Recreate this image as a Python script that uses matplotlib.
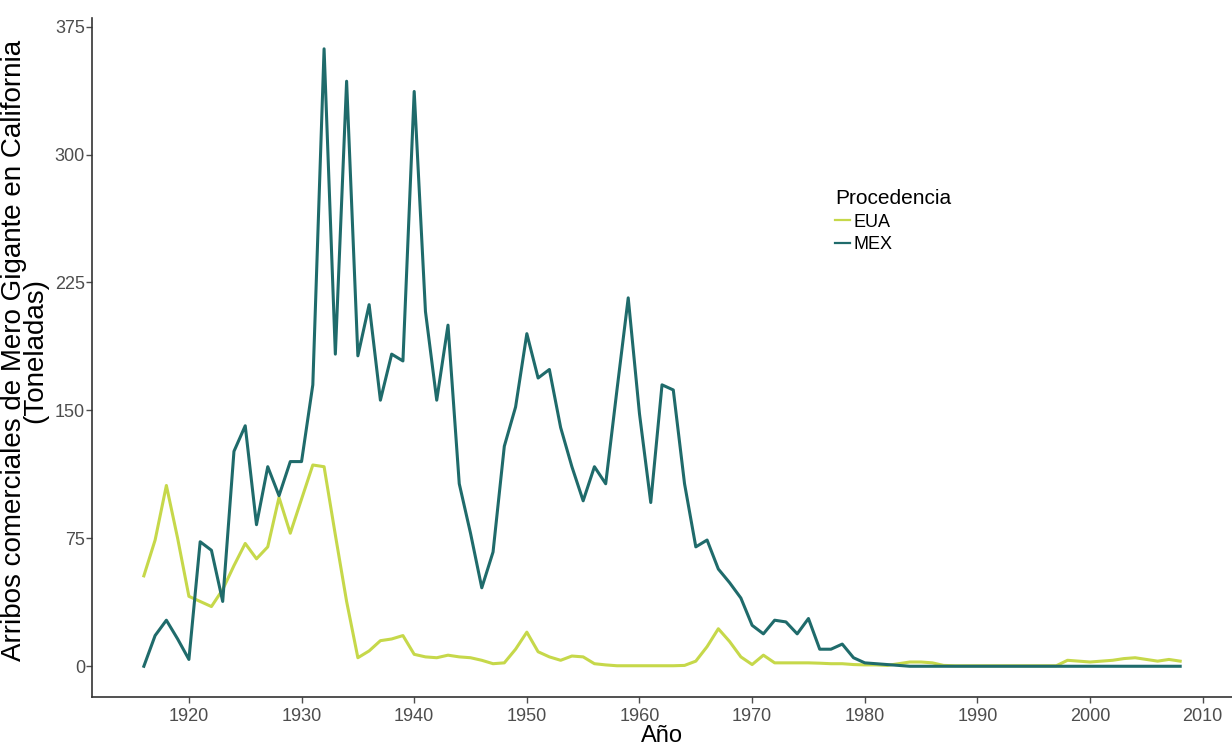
import numpy as np
import matplotlib.pyplot as plt

plt.rcParams['font.family'] = ['Liberation Sans', 'DejaVu Sans']

# años 1916-2008
years = list(range(1916, 2009))

# arribos de México (toneladas)
mex = [0, 18, 27, 16, 4, 73, 68, 38, 126, 141,
       83, 117, 100, 120, 120, 165, 362, 183, 343, 182,
       212, 156, 183, 179, 337, 208, 156, 200, 107, 78,
       46, 67, 129, 152, 195, 169, 174, 140, 117, 97,
       117, 107, 162, 216, 148, 96, 165, 162, 107, 70,
       74, 57, 49, 40, 24, 19, 27, 26, 19, 28,
       10, 10, 13, 5, 2, 1.5, 1, 0.5] + [0] * 25

# arribos de EUA (toneladas)
eua = [53, 74, 106, 75, 41, 38, 35, 45, 59, 72,
       63, 70, 99, 78, 98, 118, 117, 77, 38, 5,
       9, 15, 16, 18, 7, 5.5, 5, 6.5, 5.5, 5,
       3.5, 1.5, 2, 10, 20, 8.5, 5.5, 3.5, 6, 5.5,
       1.5, 0.8, 0.3, 0.3, 0.3, 0.3, 0.3, 0.3, 0.5, 3,
       11.5, 22, 14.5, 5.5, 1, 6.5, 2, 2, 2, 2,
       1.8, 1.5, 1.5, 1, 0.8, 0.8, 0.5, 1.5, 2.5, 2.5,
       2, 0.5] + [0.3] * 10 + [3.5, 3, 2.5, 3, 3.5, 4.5, 5, 4, 3, 4, 3]

col_eua = '#c6d84a'
col_mex = '#1f6b6b'

fig = plt.figure(figsize=(12.32, 7.48), dpi=100)
ax = fig.add_axes([0.0747, 0.068, 0.9253, 0.908])

ax.plot(years, eua, color=col_eua, lw=2.2, label='EUA', solid_joinstyle='round')
ax.plot(years, mex, color=col_mex, lw=2.2, label='MEX', solid_joinstyle='round')

# rango como ggplot (expansión 5%)
ax.set_xlim(1911.4, 2012.6)
ax.set_ylim(-18.1, 380.1)
ax.set_xticks(range(1920, 2011, 10))
ax.set_yticks([0, 75, 150, 225, 300, 375])

for s in ['top', 'right']:
    ax.spines[s].set_visible(False)
for s in ['left', 'bottom']:
    ax.spines[s].set_color('#333333')
    ax.spines[s].set_linewidth(1.2)
ax.tick_params(axis='both', colors='#4d4d4d', labelsize=13, length=4, width=1)
ax.tick_params(axis='y', pad=1)

ax.set_xlabel('Año', fontsize=17, labelpad=0)
ax.set_ylabel('Arribos comerciales de Mero Gigante en California\n(Toneladas)',
              fontsize=20, linespacing=0.78)
ax.yaxis.set_label_coords(-0.038, 0.51)

leg = ax.legend(title='Procedencia', loc='upper left',
                bbox_to_anchor=(828 / 1232, 1 - 182 / 748),
                bbox_transform=fig.transFigure, frameon=False,
                fontsize=13, title_fontsize=15, handlelength=0.8,
                handletextpad=0.2, labelspacing=0.3, alignment='left',
                borderaxespad=0)
for h in leg.get_lines():
    h.set_linewidth(1.6)

plt.savefig('out.png', dpi=100)
